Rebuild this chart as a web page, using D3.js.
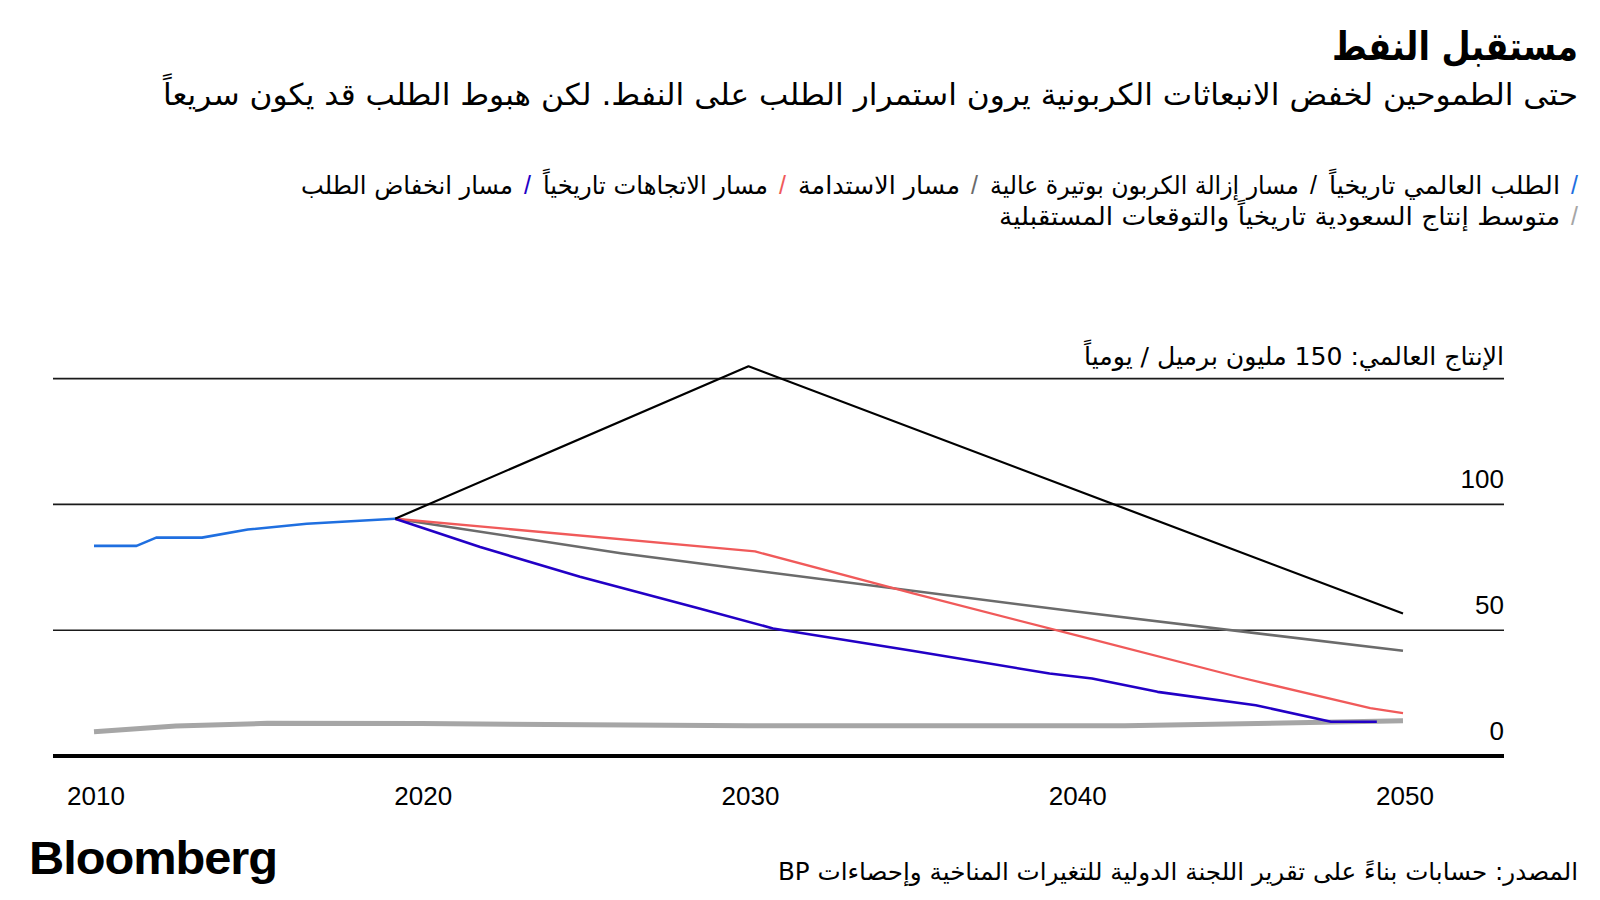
<!DOCTYPE html>
<html><head><meta charset="utf-8">
<script src="https://cdn.jsdelivr.net/npm/d3@7/dist/d3.min.js"></script>
<style>
body{margin:0;background:#fff;}
svg{display:block;}
.ar{font-family:"DejaVu Sans Condensed","DejaVu Sans",sans-serif;font-stretch:condensed;}
.num{font-family:"Liberation Sans",Arial,sans-serif;}
</style></head><body>
<svg id="chart" width="1600" height="900"></svg>
<script>
// ---------- DATA ----------
const titleText = "مستقبل النفط";
const subtitleText = "حتى الطموحين لخفض الانبعاثات الكربونية يرون استمرار الطلب على النفط. لكن هبوط الطلب قد يكون سريعاً";
const axisTitleText = "الإنتاج العالمي: 150 مليون برميل / يومياً";
const sourceText = "المصدر: حسابات بناءً على تقرير اللجنة الدولية للتغيرات المناخية وإحصاءات BP";
const logoText = "Bloomberg";

const xTicks = [2010, 2020, 2030, 2040, 2050];
const yTicks = [0, 50, 100, 150];
const yTickLabels = ["0", "50", "100", ""];

const legendNames = [
  "الطلب العالمي تاريخياً",
  "مسار إزالة الكربون بوتيرة عالية",
  "مسار الاستدامة",
  "مسار الاتجاهات تاريخياً",
  "مسار انخفاض الطلب",
  "متوسط إنتاج السعودية تاريخياً والتوقعات المستقبلية"
];
const legendRows = [0, 0, 0, 0, 0, 1];
const seriesColors = ["#1f6fe0", "#000000", "#6b6b6b", "#f05a5a", "#2200c6", "#a6a6a6"];

const histYears   = [2010, 2011.3, 2011.9, 2013.3, 2014.7, 2016.5, 2019.2];
const histDemand  = [83.5, 83.5, 86.8, 86.8, 90.0, 92.3, 94.3];

const decarbYears = [2019.2, 2030, 2050];
const decarbVals  = [94.3, 154.9, 56.6];

const sustYears   = [2019.2, 2026.1, 2030, 2040, 2050];
const sustVals    = [94.3, 80.6, 74.0, 57.4, 41.8];

const trendYears  = [2019.2, 2030.2, 2035, 2040, 2045, 2049, 2050];
const trendVals   = [94.3, 81.3, 64.7, 48.0, 31.3, 19.0, 17.0];

const declYears   = [2019.2, 2021.8, 2024.85, 2028.5, 2030.75, 2035, 2039.2, 2040.5, 2042.5, 2045.5, 2047.8, 2049.2];
const declVals    = [94.3, 83.1, 71.2, 58.6, 50.7, 41.8, 32.8, 30.8, 25.5, 20.2, 13.6, 13.6];

const saudiYears  = [2010, 2012.5, 2015.3, 2020, 2030, 2041.5, 2050];
const saudiVals   = [9.6, 11.9, 13.0, 12.9, 12.0, 12.0, 14.0];

// ---------- CHART ----------
const svg = d3.select("#chart");
const x = d3.scaleLinear().domain([2010, 2050]).range([94, 1403]);
const y = d3.scaleLinear().domain([0, 150]).range([756, 378.6]);
const gridLeft = 53, gridRight = 1504;

function fit(sel, w){ sel.attr("textLength", w).attr("lengthAdjust", "spacingAndGlyphs"); return sel; }

// Title & subtitle
fit(svg.append("text").attr("class","ar").attr("direction","rtl").attr("text-anchor","start")
  .attr("x", 1578).attr("y", 60).attr("font-size", 39).attr("font-weight", "bold").attr("fill","#000")
  .text(titleText), 246);
fit(svg.append("text").attr("class","ar").attr("direction","rtl").attr("text-anchor","start")
  .attr("x", 1578).attr("y", 105).attr("font-size", 30).attr("fill","#000")
  .text(subtitleText), 1415);

// Legend (flow right-to-left); label widths fitted to the reference layout
const legendWidths = [231, 309, 162, 225, 212, 561];
const legendG = svg.append("g");
const rowY = [194, 225];
const rowX = [1578, 1578];
legendNames.forEach((name, i) => {
  const r = legendRows[i];
  const xr = rowX[r];
  legendG.append("text").attr("class","num").attr("x", xr).attr("y", rowY[r])
    .attr("text-anchor","end").attr("font-size", 25).attr("fill", seriesColors[i]).text("/");
  fit(legendG.append("text").attr("class","ar").attr("direction","rtl").attr("text-anchor","start")
    .attr("x", xr - 18).attr("y", rowY[r]).attr("font-size", 25).attr("fill","#000").text(name), legendWidths[i]);
  rowX[r] = xr - 18 - legendWidths[i] - 12;
});

// Gridlines
svg.append("g").selectAll("line").data(yTicks.filter(d => d > 0)).join("line")
  .attr("x1", gridLeft).attr("x2", gridRight)
  .attr("y1", d => y(d)).attr("y2", d => y(d))
  .attr("stroke", "#1a1a1a").attr("stroke-width", 1.6);

// Axis title
fit(svg.append("text").attr("class","ar").attr("direction","rtl").attr("text-anchor","start")
  .attr("x", gridRight).attr("y", 365).attr("font-size", 25).attr("fill","#000")
  .text(axisTitleText), 420);

// Y tick labels
svg.append("g").selectAll("text").data(yTicks.filter((d,i) => yTickLabels[i] !== "")).join("text")
  .attr("class","num").attr("x", gridRight).attr("y", d => y(d) - 16)
  .attr("text-anchor","end").attr("font-size", 26).attr("fill","#000")
  .text(d => yTickLabels[yTicks.indexOf(d)]);

// Lines
const line = d3.line().x(d => x(d[0])).y(d => y(d[1]));
const zip = (a, b) => a.map((v, i) => [v, b[i]]);
const series = [
  {pts: zip(saudiYears, saudiVals), color: seriesColors[5], w: 5},
  {pts: zip(sustYears, sustVals), color: seriesColors[2], w: 2.5},
  {pts: zip(trendYears, trendVals), color: seriesColors[3], w: 2.3},
  {pts: zip(declYears, declVals), color: seriesColors[4], w: 2.6},
  {pts: zip(decarbYears, decarbVals), color: seriesColors[1], w: 2.2},
  {pts: zip(histYears, histDemand), color: seriesColors[0], w: 2.6}
];
svg.append("g").selectAll("path").data(series).join("path")
  .attr("d", d => line(d.pts)).attr("fill","none")
  .attr("stroke", d => d.color).attr("stroke-width", d => d.w)
  .attr("stroke-linejoin","round");

// Zero axis
svg.append("line").attr("x1", gridLeft).attr("x2", gridRight)
  .attr("y1", y(0)).attr("y2", y(0)).attr("stroke","#000").attr("stroke-width", 4);

// X tick labels
svg.append("g").selectAll("text").data(xTicks).join("text")
  .attr("class","num").attr("x", d => x(d) + 2).attr("y", 805)
  .attr("text-anchor","middle").attr("font-size", 26).attr("fill","#000")
  .text(d => d);

// Logo & source
fit(svg.append("text").attr("class","num").attr("x", 29).attr("y", 874)
  .attr("font-size", 46).attr("font-weight","bold").attr("letter-spacing", -1).attr("fill","#000")
  .text(logoText), 248);
fit(svg.append("text").attr("class","ar").attr("direction","rtl").attr("text-anchor","start")
  .attr("x", 1578).attr("y", 880).attr("font-size", 24).attr("fill","#000")
  .text(sourceText), 800);
</script>
</body></html>
